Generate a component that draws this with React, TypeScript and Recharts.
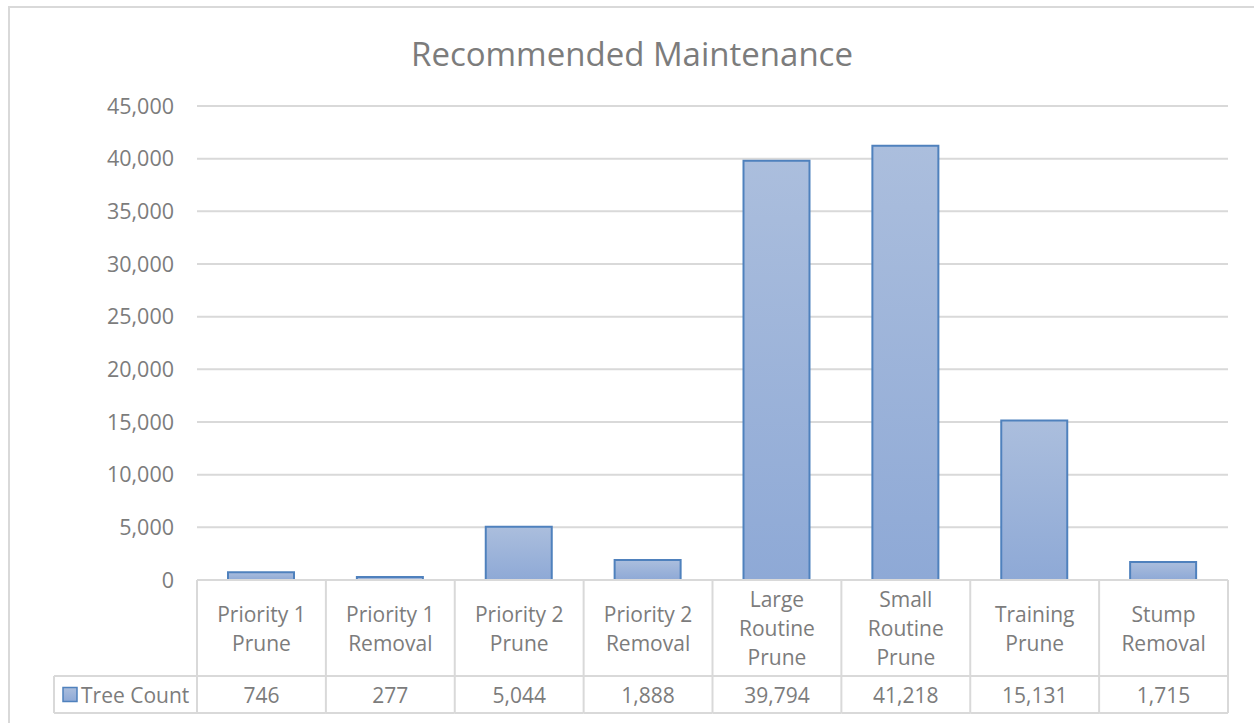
import React from "react";
import { BarChart, Bar, XAxis, YAxis, CartesianGrid } from "recharts";

const categories = [
  "Priority 1 Prune",
  "Priority 1 Removal",
  "Priority 2 Prune",
  "Priority 2 Removal",
  "Large Routine Prune",
  "Small Routine Prune",
  "Training Prune",
  "Stump Removal",
];
const labelLines = [
  ["Priority 1", "Prune"],
  ["Priority 1", "Removal"],
  ["Priority 2", "Prune"],
  ["Priority 2", "Removal"],
  ["Large", "Routine", "Prune"],
  ["Small", "Routine", "Prune"],
  ["Training", "Prune"],
  ["Stump", "Removal"],
];
const treeCount = [746, 277, 5044, 1888, 39794, 41218, 15131, 1715];
const yTicks = [0, 5000, 10000, 15000, 20000, 25000, 30000, 35000, 40000, 45000];
const seriesName = "Tree Count";
const title = "Recommended Maintenance";

const data = categories.map((c, i) => ({ name: c, value: treeCount[i], idx: i }));

const W = 1254;
const H = 723;
const M = { top: 106, right: 26, left: 0, bottom: 10 };
const Y_AXIS_W = 197;
const X_AXIS_H = 133;
const PLOT_W = W - M.left - M.right - Y_AXIS_W;
const BW = PLOT_W / categories.length;
const ROW1_H = 96;
const ROW2_H = 37;
const LINE_H = 29;

const GRID = "#d9d9d9";
const TEXT = "#7c7c7c";
const FONT = "'Open Sans', sans-serif";

const fmt = (v: number) => v.toLocaleString("en-US");

const CategoryTick = (props: any) => {
  const { x, y, payload, index } = props;
  const i = typeof index === "number" ? index : categories.indexOf(payload.value);
  const left = x - BW / 2;
  const right = x + BW / 2;
  const top = y;
  const mid = top + ROW1_H;
  const bot = mid + ROW2_H;
  const lines = labelLines[i] || [payload.value];
  const rowCenter = top + ROW1_H / 2;
  const start = rowCenter - ((lines.length - 1) * LINE_H) / 2;
  const headLeft = 54;
  return (
    <g>
      <line x1={left} y1={top} x2={right} y2={top} stroke={GRID} strokeWidth={2} />
      <line x1={left} y1={mid} x2={right} y2={mid} stroke={GRID} strokeWidth={2} />
      <line x1={left} y1={bot} x2={right} y2={bot} stroke={GRID} strokeWidth={2} />
      <line x1={left} y1={top} x2={left} y2={bot} stroke={GRID} strokeWidth={2} />
      {i === categories.length - 1 && (
        <line x1={right} y1={top} x2={right} y2={bot} stroke={GRID} strokeWidth={2} />
      )}
      {lines.map((ln: string, k: number) => (
        <text
          key={k}
          x={x}
          y={start + k * LINE_H}
          textAnchor="middle"
          dominantBaseline="central"
          fill={TEXT}
          fontSize={21}
          fontFamily={FONT}
        >
          {ln}
        </text>
      ))}
      <text
        x={x}
        y={mid + ROW2_H / 2}
        textAnchor="middle"
        dominantBaseline="central"
        fill={TEXT}
        fontSize={21}
        fontFamily={FONT}
      >
        {fmt(treeCount[i])}
      </text>
      {i === 0 && (
        <g>
          <line x1={headLeft} y1={mid} x2={left} y2={mid} stroke={GRID} strokeWidth={2} />
          <line x1={headLeft} y1={bot} x2={left} y2={bot} stroke={GRID} strokeWidth={2} />
          <line x1={headLeft} y1={mid} x2={headLeft} y2={bot} stroke={GRID} strokeWidth={2} />
          <rect
            x={headLeft + 9}
            y={mid + ROW2_H / 2 - 7}
            width={14}
            height={14}
            fill="url(#barGrad)"
            stroke="#4f81bd"
            strokeWidth={1.5}
          />
          <text
            x={headLeft + 27}
            y={mid + ROW2_H / 2}
            textAnchor="start"
            dominantBaseline="central"
            fill={TEXT}
            fontSize={21}
            fontFamily={FONT}
          >
            {seriesName}
          </text>
        </g>
      )}
    </g>
  );
};

export default function App() {
  return (
    <div
      style={{
        position: "absolute",
        left: 0,
        top: 0,
        width: W,
        height: H,
        overflow: "hidden",
        background: "#fff",
      }}
    >
      <div
        style={{
          position: "absolute",
          left: 8,
          top: 6,
          width: 1400,
          height: 900,
          border: `2px solid ${GRID}`,
          boxSizing: "border-box",
        }}
      />
      <div
        style={{
          position: "absolute",
          left: 0,
          top: 0,
          width: W,
          height: H,
        }}
      >
        <BarChart width={W} height={H} data={data} margin={M} barSize={66}>
          <defs>
            <linearGradient id="barGrad" x1="0" y1="0" x2="0" y2="1">
              <stop offset="0%" stopColor="#abbedd" />
              <stop offset="100%" stopColor="#8ea9d6" />
            </linearGradient>
          </defs>
          <text
            x={632}
            y={53}
            textAnchor="middle"
            dominantBaseline="central"
            fill={TEXT}
            fontSize={33}
            fontFamily={FONT}
          >
            {title}
          </text>
          <CartesianGrid vertical={false} stroke={GRID} strokeWidth={2} />
          <YAxis
            width={Y_AXIS_W}
            domain={[0, 45000]}
            ticks={yTicks}
            tickFormatter={fmt}
            axisLine={false}
            tickLine={false}
            tickSize={0}
            tickMargin={23}
            tick={{ fill: TEXT, fontSize: 21.5, fontFamily: FONT }}
          />
          <XAxis
            dataKey="name"
            height={X_AXIS_H}
            axisLine={false}
            tickLine={false}
            tickSize={0}
            tickMargin={0}
            interval={0}
            tick={<CategoryTick />}
          />
          <Bar
            dataKey="value"
            name={seriesName}
            fill="url(#barGrad)"
            stroke="#4f81bd"
            strokeWidth={2}
            isAnimationActive={false}
          />
        </BarChart>
      </div>
    </div>
  );
}
